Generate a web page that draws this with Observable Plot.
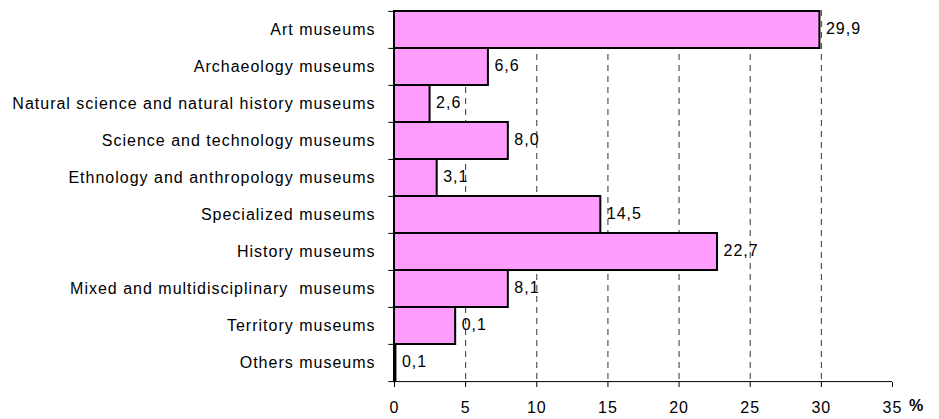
<!DOCTYPE html>
<html>
<head>
<meta charset="utf-8">
<script src="https://cdn.jsdelivr.net/npm/d3@7"></script>
<script src="https://cdn.jsdelivr.net/npm/@observablehq/plot@0.6"></script>
<style>
  html, body { margin: 0; padding: 0; background: #fff; }
  #chart svg { display: block; }
</style>
</head>
<body>
<div id="chart"></div>
<script>
const categories = [
  "Art museums",
  "Archaeology museums",
  "Natural science and natural history museums",
  "Science and technology museums",
  "Ethnology and anthropology museums",
  "Specialized museums",
  "History museums",
  "Mixed and multidisciplinary  museums",
  "Territory museums",
  "Others museums"
];
const barValues = [29.9, 6.6, 2.5, 8.0, 3.0, 14.5, 22.7, 8.0, 4.3, 0.1];
const labelTexts = ["29,9", "6,6", "2,6", "8,0", "3,1", "14,5", "22,7", "8,1", "0,1", "0,1"];
const xTicks = [0, 5, 10, 15, 20, 25, 30, 35];
const gridTicks = [5, 10, 15, 20, 25, 30];

const data = categories.map((c, i) => ({category: c, value: barValues[i], label: labelTexts[i]}));

const W = 939, H = 419, mt = 10, mb = 37, ml = 394, mr = 47;
const bw = (H - mt - mb) / categories.length;

const plot = Plot.plot({
  width: W,
  height: H,
  marginTop: mt,
  marginBottom: mb,
  marginLeft: ml,
  marginRight: mr,
  style: {fontFamily: "'Liberation Sans', Arial, sans-serif", fontSize: "16px", letterSpacing: "1px", color: "#000", background: "#fff"},
  x: {domain: [0, 35]},
  y: {domain: categories, padding: 0},
  marks: [
    Plot.ruleX(gridTicks, {stroke: "#333", strokeWidth: 1, strokeDasharray: "6,5"}),
    Plot.barX(data, {x: "value", y: "category", fill: "#ff9dff", stroke: "#000", strokeWidth: 2}),
    Plot.text(data, {x: "value", y: "category", text: "label", textAnchor: "start", dx: 6, dy: -1, fill: "#000", fontSize: 16}),
    Plot.ruleX([0], {stroke: "#000", strokeWidth: 1}),
    Plot.ruleY(categories, {y: (d) => d, x1: -0.4, x2: 0, dy: -bw / 2, stroke: "#000"}),
    Plot.ruleY([categories[categories.length - 1]], {y: (d) => d, x1: -0.4, x2: 35, dy: bw / 2, stroke: "#000"}),
    Plot.axisX({ticks: xTicks, tickSize: 5, tickPadding: 14, label: null, fontSize: 16, tickFormat: (d) => String(d)}),
    Plot.axisY({tickSize: 0, tickPadding: 19, label: null, fontSize: 16}),
    Plot.text(["%"], {frameAnchor: "bottom-right", dx: 24, dy: 28, text: (d) => d, fontWeight: "bold", fontSize: 16, textAnchor: "middle"})
  ]
});

document.getElementById("chart").appendChild(plot);
</script>
</body>
</html>
